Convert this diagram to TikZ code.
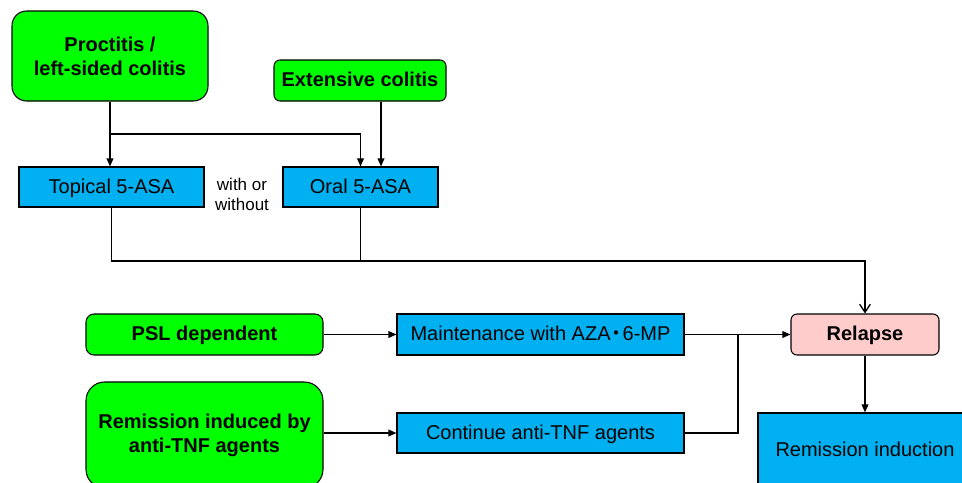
\documentclass[tikz,border=0pt]{standalone}
\usepackage{fontspec}
\setmainfont{Liberation Sans}
\newfontfamily\cjkfont{Noto Sans CJK JP}
\usetikzlibrary{arrows.meta}
\definecolor{gfill}{HTML}{00FF00}
\definecolor{bfill}{HTML}{00B0F0}
\definecolor{pfill}{HTML}{FFCCCC}
\tikzset{
  base/.style={draw=black, line width=0.8pt, inner sep=0pt, align=center,
    font=\fontsize{15}{18}\selectfont},
  one/.style={text height=12.4pt, text depth=3.4pt},
  gbox/.style={base, fill=gfill, font=\fontsize{15}{18}\selectfont\bfseries},
  bbox/.style={base, fill=bfill},
  pbox/.style={base, fill=pfill, rounded corners=4.5pt, font=\fontsize{15}{18}\selectfont\bfseries},
  conn/.style={line width=1pt, draw=black},
  arr/.style={conn, -{Triangle[length=6pt,width=5pt]}},
  varr/.style={conn, -{Straight Barb[length=6pt,width=8pt,line width=1pt]}},
}
\begin{document}
\begin{tikzpicture}[x=0.75pt,y=-0.75pt]
\useasboundingbox (0,0) rectangle (962,482);
\clip (0,0) rectangle (962,482);
\fill[white] (0,0) rectangle (962,482);
% top
\node[gbox, rounded corners=11pt, minimum width=196*0.75pt, minimum height=90*0.75pt] (proc) at (110,56) {Proctitis /\\left-sided colitis};
\node[gbox, one, rounded corners=4.5pt, minimum width=172*0.75pt, minimum height=41*0.75pt] (ext) at (360,80.5) {Extensive colitis};
\node[bbox, one, minimum width=185*0.75pt, minimum height=40*0.75pt] (top) at (111.5,187) {Topical 5-ASA};
\node[bbox, one, minimum width=155*0.75pt, minimum height=40*0.75pt] (oral) at (360.5,187) {Oral 5-ASA};
\node[align=center, inner sep=0pt, font=\fontsize{12.75}{15.5}\selectfont] (wow) at (242,194.5) {with or\\without};
% middle
\node[gbox, one, rounded corners=6pt, minimum width=237*0.75pt, minimum height=41*0.75pt] (psl) at (204.5,334.5) {PSL dependent};
\node[gbox, rounded corners=14pt, minimum width=237*0.75pt, minimum height=106*0.75pt] (rem) at (204.5,435) {Remission induced by\\anti-TNF agents};
\node[bbox, one, minimum width=287*0.75pt, minimum height=41*0.75pt] (maint) at (540.5,334.5) {Maintenance with AZA\kern-3pt{\cjkfont ・}\kern-3pt 6-MP};
\node[bbox, one, minimum width=287*0.75pt, minimum height=40*0.75pt] (cont) at (540.5,433) {Continue anti-TNF agents};
\node[pbox, one, minimum width=148*0.75pt, minimum height=41*0.75pt] (rel) at (865,334.5) {Relapse};
\node[bbox, one, minimum width=214*0.75pt, minimum height=74*0.75pt] (ri) at (865,450) {Remission induction};
% junctions
\coordinate (j1) at (110,134);
\coordinate (j2) at (110,261);
\coordinate (j3) at (738,334.5);
% connectors
\draw[arr] (proc.south) -- (proc.south |- top.north);
\draw[arr] (proc.south) -- (j1) -| (oral.north);
\draw[arr] ([xshift=15.75pt]ext.south) -- ([xshift=15.75pt]ext.south |- oral.north);
\draw[varr] (top.south) -- (top.south |- j2) -| (rel.north);
\draw[conn] (oral.south) -- (oral.south |- j2);
\draw[arr] (psl.east) -- (maint.west);
\draw[arr] (rem.east |- cont.west) -- (cont.west);
\draw[arr] (maint.east) -- (rel.west);
\draw[conn] (cont.east) -| (j3);
\draw[arr] (rel.south) -- (ri.north);
\end{tikzpicture}
\end{document}
